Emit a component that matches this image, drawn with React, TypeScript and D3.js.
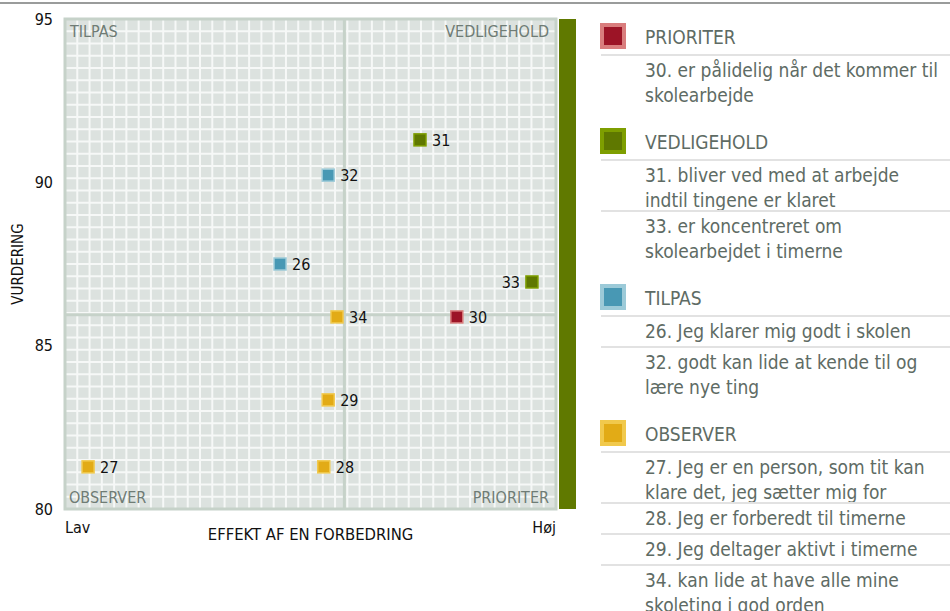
import React from "react";
import * as d3 from "d3";

// ---- data ----
const itemIds = [30, 31, 33, 26, 32, 27, 28, 29, 34];
const effectValues = [79.8, 72.3, 95.1, 43.8, 53.6, 4.7, 52.7, 53.6, 55.4];
const ratingValues = [85.88, 91.3, 86.95, 87.5, 90.22, 81.29, 81.29, 83.34, 85.88];
const itemGroups = ["PRIORITER", "VEDLIGEHOLD", "VEDLIGEHOLD", "TILPAS", "TILPAS", "OBSERVER", "OBSERVER", "OBSERVER", "OBSERVER"];
const itemTexts = [
  ["30. er pålidelig når det kommer til", "skolearbejde"],
  ["31. bliver ved med at arbejde", "indtil tingene er klaret"],
  ["33. er koncentreret om", "skolearbejdet i timerne"],
  ["26. Jeg klarer mig godt i skolen"],
  ["32. godt kan lide at kende til og", "lære nye ting"],
  ["27. Jeg er en person, som tit kan", "klare det, jeg sætter mig for"],
  ["28. Jeg er forberedt til timerne"],
  ["29. Jeg deltager aktivt i timerne"],
  ["34. kan lide at have alle mine", "skoleting i god orden"],
];
const groups = ["PRIORITER", "VEDLIGEHOLD", "TILPAS", "OBSERVER"];
const groupFill = ["#9c1426", "#5f7800", "#4898b4", "#e2ab16"];
const groupEdge = ["#d97d7d", "#7e9e00", "#9ccad8", "#f1c94c"];
const yTicks = [80, 85, 90, 95];
const xDomain = [0, 100];
const yDomain = [80, 95];
const xDivider = 56.9;
const yDivider = 85.95;

const FONT = "'DejaVu Sans Condensed', 'DejaVu Sans', sans-serif";

export default function App() {
  const L = 65, R = 556, T = 19, B = 509;
  const x = d3.scaleLinear().domain(xDomain).range([L, R]);
  const y = d3.scaleLinear().domain(yDomain).range([B, T]);
  const n = 40;
  const gx = d3.range(1, n).map((i) => L + (i * (R - L)) / n);
  const gy = d3.range(1, n).map((i) => T + (i * (B - T)) / n);
  const qColor = "#6f7c75";
  const txtColor = "#5e6b64";

  // legend layout
  const legend: any[] = [];
  let cy = 23;
  groups.forEach((g, gi) => {
    const sq = cy;
    const sep = cy + 32;
    const items: any[] = [];
    let s = sep;
    const idx = itemGroups.map((v, i) => (v === g ? i : -1)).filter((i) => i >= 0);
    let lastCenter = s;
    idx.forEach((ii, k) => {
      const lines = itemTexts[ii];
      const centers = lines.map((_, li) => s + 15 + li * 25);
      lastCenter = centers[centers.length - 1];
      const end = lines.length === 1 ? s + 31 : s + 51;
      items.push({ lines, centers, sepAfter: k < idx.length - 1 ? end : null });
      s = end;
    });
    legend.push({ g, gi, sq, sep, items });
    cy = lastCenter + 33;
  });

  return (
    <svg width={950} height={611} style={{ position: "absolute", left: 0, top: 0, fontFamily: FONT, fontStretch: "condensed" }}>
      <rect x={0} y={0} width={950} height={611} fill="#fff" />
      <line x1={0} x2={950} y1={3} y2={3} stroke="#9a9c9b" strokeWidth={2} />
      {/* plot background */}
      <rect x={L} y={T} width={R - L} height={B - T} fill="#dce2df" />
      {gx.map((v, i) => (
        <line key={"gx" + i} x1={v} x2={v} y1={T} y2={B} stroke="#f6f8f7" strokeWidth={2} />
      ))}
      {gy.map((v, i) => (
        <line key={"gy" + i} x1={L} x2={R} y1={v} y2={v} stroke="#f6f8f7" strokeWidth={2} />
      ))}
      <rect x={L} y={T} width={R - L} height={B - T} fill="none" stroke="#c6d2c9" strokeWidth={3} />
      <line x1={x(xDivider)} x2={x(xDivider)} y1={T - 1} y2={B + 1} stroke="#c6d2c9" strokeWidth={3} />
      <line x1={L} x2={R} y1={y(yDivider)} y2={y(yDivider)} stroke="#c6d2c9" strokeWidth={3} />
      {/* green bar */}
      <rect x={559} y={T} width={17} height={B - T} fill="#607900" />
      {/* quadrant labels */}
      <text x={70} y={37} fontSize={16} fill={qColor}>TILPAS</text>
      <text x={549} y={37} fontSize={16} fill={qColor} textAnchor="end">VEDLIGEHOLD</text>
      <text x={69} y={503} fontSize={16} fill={qColor}>OBSERVER</text>
      <text x={549} y={503} fontSize={16} fill={qColor} textAnchor="end">PRIORITER</text>
      {/* y ticks */}
      {yTicks.map((t) => (
        <text key={t} x={53} y={y(t)} dy="0.35em" textAnchor="end" fontSize={16} fill="#111">{t}</text>
      ))}
      <text transform={`translate(23,${(T + B) / 2}) rotate(-90)`} textAnchor="middle" fontSize={15} fill="#111">VURDERING</text>
      <text x={L} y={533} fontSize={16} fill="#111">Lav</text>
      <text x={R} y={533} fontSize={16} fill="#111" textAnchor="end">Høj</text>
      <text x={(L + R) / 2} y={540} fontSize={16.5} fill="#111" textAnchor="middle">EFFEKT AF EN FORBEDRING</text>
      {/* points */}
      {itemIds.map((id, i) => {
        const gi = groups.indexOf(itemGroups[i]);
        const px = x(effectValues[i]);
        const py = y(ratingValues[i]);
        const leftSide = px + 40 > R;
        return (
          <g key={id}>
            <rect x={px - 6} y={py - 6} width={12} height={12} fill={groupFill[gi]} stroke={groupEdge[gi]} strokeWidth={1.5} />
            <text x={leftSide ? px - 12 : px + 12} y={py} dy="0.36em" fontSize={16} fill="#111" textAnchor={leftSide ? "end" : "start"}>{id}</text>
          </g>
        );
      })}
      {/* legend */}
      {legend.map((sec) => (
        <g key={sec.g}>
          <rect x={602} y={sec.sq + 2} width={22} height={22} fill={groupFill[sec.gi]} stroke={groupEdge[sec.gi]} strokeWidth={4} />
          <text x={645} y={sec.sq + 14} dy="0.36em" fontSize={19} fill={txtColor}>{sec.g}</text>
          <line x1={601} x2={950} y1={sec.sep} y2={sec.sep} stroke="#e2e2e2" strokeWidth={2} />
          {sec.items.map((it: any, k: number) => (
            <g key={k}>
              {it.lines.map((ln: string, li: number) => (
                <text key={li} x={645} y={it.centers[li]} dy="0.36em" fontSize={19} fill={txtColor}>{ln}</text>
              ))}
              {it.sepAfter !== null && (
                <line x1={601} x2={950} y1={it.sepAfter} y2={it.sepAfter} stroke="#e2e2e2" strokeWidth={2} />
              )}
            </g>
          ))}
        </g>
      ))}
    </svg>
  );
}
